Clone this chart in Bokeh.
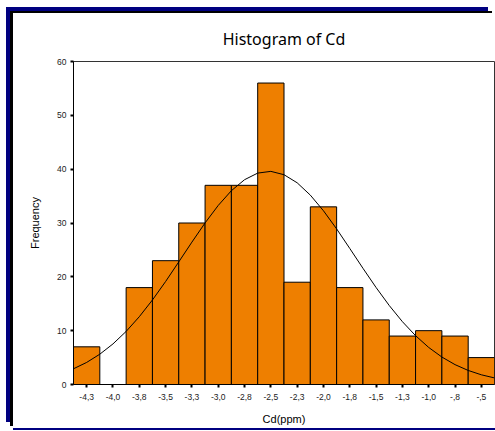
from bokeh.plotting import figure
from bokeh.models import FixedTicker, Range1d
from bokeh.embed import file_html
from bokeh.resources import INLINE

# --- data ---
bin_centers = [-4.25, -4.0, -3.75, -3.5, -3.25, -3.0, -2.75, -2.5,
               -2.25, -2.0, -1.75, -1.5, -1.25, -1.0, -0.75, -0.5]
counts = [7, 0, 18, 23, 30, 37, 37, 56, 19, 33, 18, 12, 9, 10, 9, 5]
tick_labels = ["-4,3", "-4,0", "-3,8", "-3,5", "-3,3", "-3,0", "-2,8", "-2,5",
               "-2,3", "-2,0", "-1,8", "-1,5", "-1,3", "-1,0", "-,8", "-,5"]
bin_width = 0.25

# normal curve
curve_x = [-4.375, -4.25, -4.125, -4.0, -3.875, -3.75, -3.625, -3.5, -3.375,
           -3.25, -3.125, -3.0, -2.875, -2.75, -2.625, -2.5, -2.375, -2.25,
           -2.125, -2.0, -1.875, -1.75, -1.625, -1.5, -1.375, -1.25, -1.125,
           -1.0, -0.875, -0.75, -0.625, -0.5, -0.375]
curve_y = [2.92, 4.10, 5.63, 7.54, 9.86, 12.59, 15.70, 19.13, 22.77, 26.45,
           30.01, 33.26, 36.00, 38.04, 39.27, 39.59, 38.97, 37.47, 35.18, 32.27,
           28.90, 25.27, 21.59, 18.01, 14.67, 11.67, 9.07, 6.88, 5.10, 3.69,
           2.61, 1.80, 1.22]
y_ticks = [0, 10, 20, 30, 40, 50, 60]

FONT = "Liberation Sans"

p = figure(width=482, height=415, output_backend="svg", toolbar_location=None,
           title="Histogram of Cd",
           x_range=Range1d(bin_centers[0] - bin_width / 2, bin_centers[-1] + bin_width / 2),
           y_range=Range1d(0, 60),
           min_border_left=60, min_border_right=1, min_border_top=48, min_border_bottom=44,
           styles={"margin-left": "13px", "margin-top": "13px",
                   "box-shadow": "-3px -2px 0 0 #000000, -7px -6px 0 0 #000080, "
                                 "0 2px 0 0 #000080"})

p.title.align = "center"
p.title.text_font = "Noto Sans"
p.title.text_font_size = "16px"
p.title.text_font_style = "normal"
p.title.text_color = "#000000"
p.title.standoff = 24

p.vbar(x=bin_centers, top=counts, width=bin_width, fill_color="#EE7F00",
       line_color="#000000", line_width=1)
p.line(x=curve_x, y=curve_y, line_color="#000000", line_width=1)

p.xgrid.visible = False
p.ygrid.visible = False
p.outline_line_color = "#333333"
p.outline_line_width = 1
p.background_fill_color = "white"
p.border_fill_color = "white"

p.xaxis.ticker = FixedTicker(ticks=bin_centers)
p.xaxis.major_label_overrides = {c: l for c, l in zip(bin_centers, tick_labels)}
p.yaxis.ticker = FixedTicker(ticks=y_ticks)

for ax in (p.xaxis, p.yaxis):
    ax.minor_tick_line_color = None
    ax.major_tick_in = 0
    ax.major_tick_out = 3
    ax.major_tick_line_width = 2
    ax.major_tick_line_color = "#000000"
    ax.axis_line_color = "#000000"
    ax.major_label_text_font = FONT
    ax.major_label_text_font_size = "8.5px"
    ax.major_label_text_color = "#222222"
    ax.axis_label_text_font = FONT
    ax.axis_label_text_font_size = "11px"
    ax.axis_label_text_font_style = "normal"
    ax.axis_label_text_color = "#000000"

p.xaxis.axis_label = "Cd(ppm)"
p.xaxis.major_label_standoff = 6
p.xaxis.axis_label_standoff = 10
p.yaxis.axis_label = "Frequency"
p.yaxis.major_label_standoff = 4
p.yaxis.axis_label_standoff = 13

open("out.html", "w").write(file_html(p, INLINE))
